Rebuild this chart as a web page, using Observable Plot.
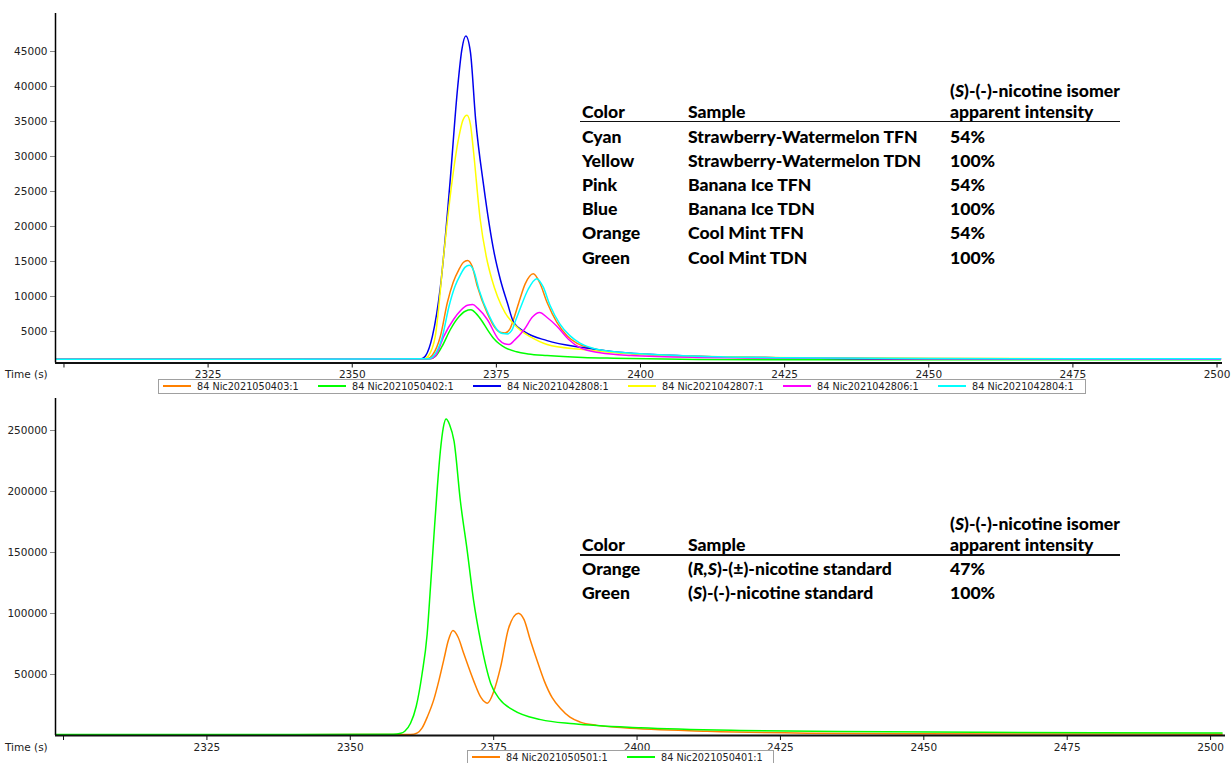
<!DOCTYPE html>
<html><head><meta charset="utf-8">
<script src="https://cdn.jsdelivr.net/npm/d3@7"></script>
<script src="https://cdn.jsdelivr.net/npm/@observablehq/plot@0.6"></script>
<style>
body{margin:0;background:#fff;}
#wrap{position:relative;width:1231px;height:763px;overflow:hidden;background:#fff;font-family:"DejaVu Sans",sans-serif;}
.abs{position:absolute;white-space:nowrap;}
.tbl{font-family:Lato,sans-serif;font-weight:900;font-size:17.6px;color:#000;line-height:20px;}
.leg{font-size:9.7px;color:#222;line-height:11px;}
.tlab{font-size:10.5px;color:#222;line-height:12px;}
.sw{display:inline-block;width:28px;height:1.6px;vertical-align:middle;margin-right:6px;position:relative;top:-1px;}
</style></head><body><div id="wrap"></div>
<script>
// ---------- data: top panel (time s, intensity) ----------
const orange403 = [[2298.6,1050],[2340,1050],[2363.0,1100],[2363.9,1600],[2365.3,4350],[2366.5,9150],[2367.5,12000],[2368.5,13850],[2369.3,14900],[2370.0,15150],[2370.8,14300],[2371.7,11450],[2373.4,7650],[2374.8,5500],[2375.8,4850],[2376.5,4800],[2377.3,5300],[2378.0,6800],[2378.9,9150],[2380.0,11800],[2381.4,13250],[2382.5,12000],[2383.8,9150],[2385.5,6300],[2387.3,4350],[2389,3300],[2391.3,2650],[2395,2100],[2401.2,1700],[2410,1400],[2425,1250],[2450,1150],[2475,1100],[2500.6,1100]];
const green402 = [[2298.6,1050],[2340,1050],[2363.5,1100],[2364.5,1500],[2365.6,2900],[2367.0,5250],[2368.5,7100],[2369.6,7900],[2370.6,8100],[2371.5,7550],[2372.5,6500],[2373.5,5200],[2374.5,4050],[2375.5,3250],[2376.5,2700],[2378.5,2100],[2380.5,1800],[2383.8,1570],[2390,1300],[2395.3,1180],[2410,1000],[2430,950],[2460,950],[2500.6,950]];
const blue808 = [[2298.6,1050],[2340,1050],[2362.0,1100],[2362.7,1500],[2363.9,4300],[2365.3,11400],[2366.9,25700],[2368.3,40000],[2369.0,45200],[2369.7,47200],[2370.5,44900],[2371.4,35300],[2372.8,25800],[2374.6,16300],[2375.7,12400],[2376.9,9100],[2378.0,6300],[2380,4900],[2383.8,3700],[2390,2700],[2395.3,2100],[2405,1600],[2412.7,1400],[2425,1250],[2441.6,1100],[2460,1100],[2480,1100],[2500.6,1100]];
const yellow807 = [[2298.6,1050],[2340,1050],[2362.5,1100],[2363.2,1500],[2364.4,4300],[2365.9,16200],[2367.2,25700],[2368.5,32800],[2369.2,35200],[2369.9,35900],[2370.5,34600],[2371.0,31000],[2372.2,21000],[2373.3,15500],[2374.2,12500],[2375.2,10000],[2376.5,7700],[2378,6100],[2379.2,5150],[2381,4200],[2383.8,3150],[2389.6,2450],[2401,1700],[2420,1300],[2450,1150],[2500.6,1100]];
const pink806 = [[2298.6,1050],[2340,1050],[2363.5,1100],[2364.5,1600],[2365.9,4350],[2367.6,6750],[2368.8,8000],[2370.0,8750],[2370.9,8850],[2371.8,8300],[2373.4,6750],[2375.4,3850],[2376.4,3250],[2377.2,3150],[2378.2,3800],[2379.8,5250],[2381.3,7100],[2382.5,7700],[2383.8,7000],[2385.5,5750],[2387.5,3900],[2389.6,2650],[2393,1950],[2398.3,1570],[2410,1300],[2425,1200],[2450,1100],[2500.6,1050]];
const cyan804 = [[2298.6,1050],[2340,1050],[2363.3,1100],[2364.2,1600],[2365.6,4150],[2366.8,8650],[2367.8,11400],[2368.8,13150],[2369.6,14200],[2370.3,14450],[2371.1,13600],[2372.0,10950],[2373.7,7350],[2375.1,5300],[2376.1,4700],[2376.9,4650],[2377.7,5200],[2378.4,6700],[2379.3,8650],[2380.5,11000],[2382.0,12550],[2383.1,11400],[2384.3,8750],[2386.0,6100],[2387.7,4450],[2389.5,3350],[2391.6,2650],[2395.5,2100],[2401.5,1750],[2410,1450],[2425,1250],[2450,1150],[2475,1100],[2500.6,1100]];

// ---------- data: bottom panel ----------
const orange501 = [[2298.6,700],[2340,700],[2360.5,800],[2361.7,2200],[2362.5,6000],[2363.5,16000],[2364.6,30000],[2365.5,46000],[2366.3,62000],[2367.1,78000],[2367.9,86000],[2368.8,80500],[2369.8,67000],[2371.5,45000],[2372.8,31000],[2373.9,26500],[2375.0,36000],[2376.2,56000],[2377.6,88000],[2379.3,100300],[2380.3,95000],[2381.4,78000],[2382.6,61000],[2383.8,45000],[2385.2,31000],[2386.7,22000],[2388.3,15000],[2390.1,11000],[2393,8300],[2397.7,6300],[2412.2,3500],[2429.7,1900],[2450,1400],[2475,1200],[2502,1100]];
const green401 = [[2298.6,900],[2340,900],[2357.5,1000],[2358.8,1800],[2359.5,3500],[2360.5,10000],[2361.5,24000],[2362.5,50000],[2363.4,83000],[2364.0,123000],[2364.6,165000],[2365.2,205000],[2365.7,233000],[2366.2,252000],[2366.7,259500],[2367.3,255000],[2368.1,241000],[2369.2,192000],[2370.4,151000],[2371.5,110500],[2372.7,78000],[2374.5,42500],[2376.0,30000],[2378.5,20500],[2383.2,13000],[2389.0,9600],[2400.6,6300],[2418.0,4100],[2435.5,3300],[2460,2600],[2480,2200],[2502,2000]];

const topNames = ["84 Nic2021050403:1","84 Nic2021050402:1","84 Nic2021042808:1","84 Nic2021042807:1","84 Nic2021042806:1","84 Nic2021042804:1"];
const topColors = ["#ff8000","#00ff00","#0000ee","#ffff00","#ff00ff","#00ffff"];
const topData = [orange403, green402, blue808, yellow807, pink806, cyan804];
const bottomNames = ["84 Nic2021050501:1","84 Nic2021050401:1"];
const bottomColors = ["#ff8000","#00ff00"];
const bottomData = [orange501, green401];

const xTicks = [2300,2325,2350,2375,2400,2425,2450,2475,2500];
const topYTicks = [5000,10000,15000,20000,25000,30000,35000,40000,45000];
const bottomYTicks = [50000,100000,150000,200000,250000];

// tables
const tableHead1 = ["(<i>S</i>)-(-)-nicotine isomer"];
const tableHead2 = ["Color","Sample","apparent intensity"];
const topTableColor = ["Cyan","Yellow","Pink","Blue","Orange","Green"];
const topTableSample = ["Strawberry-Watermelon TFN","Strawberry-Watermelon TDN","Banana Ice TFN","Banana Ice TDN","Cool Mint TFN","Cool Mint TDN"];
const topTablePct = ["54%","100%","54%","100%","54%","100%"];
const botTableColor = ["Orange","Green"];
const botTableSample = ["(<i>R,S</i>)-(±)-nicotine standard","(<i>S</i>)-(-)-nicotine standard"];
const botTablePct = ["47%","100%"];

const wrap = document.getElementById("wrap");

function rows(names, datas){
  return names.flatMap((n,i)=>datas[i].map(([t,v])=>({t,v,name:n})));
}

function panel(names, colors, datas, opts){
  const data = rows(names, datas);
  return Plot.plot({
    width:1231, height:opts.height,
    marginLeft:55, marginRight:opts.marginRight, marginTop:opts.marginTop, marginBottom:opts.marginBottom,
    x:{domain:opts.xDomain},
    y:{domain:opts.yDomain},
    color:{domain:names, range:colors},
    style:{fontFamily:"DejaVu Sans", fontSize:"10.5px", color:"#222", background:"transparent", overflow:"visible"},
    marks:[
      Plot.lineY(data,{x:"t",y:"v",z:"name",stroke:"name",curve:"monotone-x",strokeWidth:1.5,clip:true}),
      Plot.axisY(opts.yTicks,{tickSize:5,tickPadding:3,stroke:"#888",fill:"#222",tickFormat:d=>String(d),label:null}),
      Plot.axisX(xTicks,{tickSize:5,tickPadding:3,stroke:"#111",fill:"#222",tickFormat:d=>d===2300?"":String(d),label:null}),
      Plot.ruleX([opts.xDomain[0]],{stroke:"#000",strokeWidth:1.5}),
      Plot.ruleY([opts.yDomain[0]],{stroke:"#111",strokeWidth:2})
    ]
  });
}

const topSvg = panel(topNames, topColors, topData, {height:380, marginRight:9, marginTop:13, marginBottom:17.5, xDomain:[2298.53,2500.95], yDomain:[500,50430], yTicks:topYTicks});
topSvg.style.position="absolute"; topSvg.style.left="0px"; topSvg.style.top="0px";
wrap.appendChild(topSvg);

const botSvg = panel(bottomNames, bottomColors, bottomData, {height:383, marginRight:6, marginTop:18, marginBottom:28, xDomain:[2298.6,2502.6], yDomain:[0,276240], yTicks:bottomYTicks});
botSvg.style.position="absolute"; botSvg.style.left="0px"; botSvg.style.top="380px";
wrap.appendChild(botSvg);

function addDiv(cls, left, top, html, extra){
  const d = document.createElement("div");
  d.className = "abs " + cls;
  d.style.left = left+"px"; d.style.top = top+"px";
  d.innerHTML = html;
  if (extra) d.style.cssText += extra;
  wrap.appendChild(d);
  return d;
}

// axis names
addDiv("tlab", 5, 368, "Time (s)");
addDiv("tlab", 5, 741, "Time (s)");

// legends
function legend(names, colors, left, top, width, height, itemTop){
  const box = addDiv("", left, top, "", `width:${width}px;height:${height}px;border:1px solid #a0a0a0;box-sizing:border-box;`);
  names.forEach((n,i)=>{
    const it = document.createElement("div");
    it.className = "abs leg";
    it.style.left = (4 + i*155) + "px";
    it.style.top = itemTop + "px";
    it.innerHTML = `<span class="sw" style="background:${colors[i]}"></span>${n}`;
    box.appendChild(it);
  });
}
legend(topNames, topColors, 158, 379, 928, 15, 1);
legend(bottomNames, bottomColors, 467, 750, 307, 20, 1);

// tables
const cols = [582, 688, 950];
function table(head1Y, head2Y, lineY, rowYs, c, s, p){
  addDiv("tbl", cols[2], head1Y-10.5, tableHead1[0]);
  tableHead2.forEach((h,i)=>addDiv("tbl", cols[i], head2Y-10.5, h));
  addDiv("", 580, lineY-0.75, "", "width:540px;height:1.5px;background:#111;");
  rowYs.forEach((y,i)=>{
    addDiv("tbl", cols[0], y-10.5, c[i]);
    addDiv("tbl", cols[1], y-10.5, s[i]);
    addDiv("tbl", cols[2], y-10.5, p[i]);
  });
}
table(91, 112, 121.5, [137,161.5,185.5,209.5,233.5,258], topTableColor, topTableSample, topTablePct);
table(524, 545, 555, [569,593], botTableColor, botTableSample, botTablePct);
</script></body></html>
